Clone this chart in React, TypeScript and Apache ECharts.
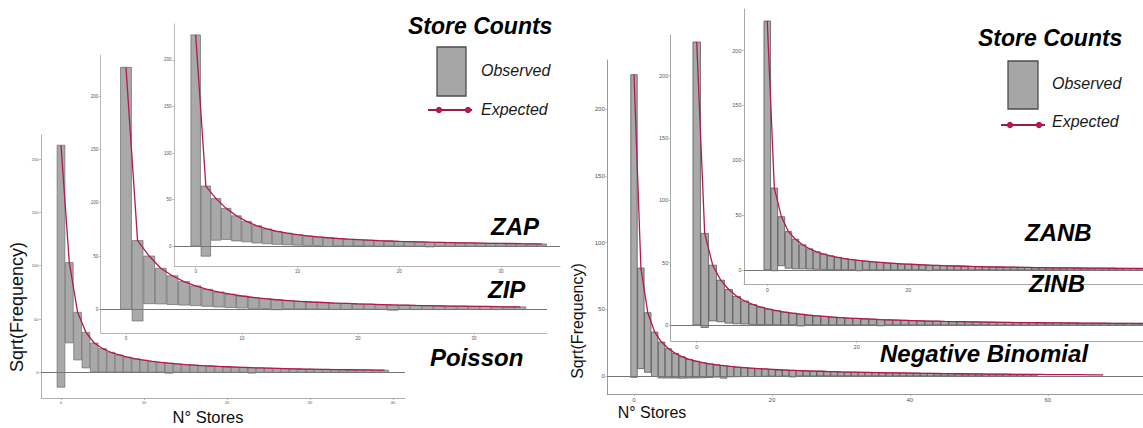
import React, { useEffect, useRef } from "react";
import * as echarts from "echarts";

// ---------- data (sqrt(frequency) scale) ----------
const observed = [
  227, 75.4, 44.7, 33.4, 27, 22, 18.5, 16, 14, 12.5,
  11.3, 10.2, 9.2, 9.4, 7.8, 7.2, 6.7, 6.3, 5.9, 5.5,
  5.1, 4.9, 4.5, 5.0, 4.1, 3.9, 3.7, 3.5, 3.3, 3.1,
  2.9, 2.9, 2.7, 2.6, 2.5, 2.4, 2.3, 2.4, 2.2, 2.1,
  2.0, 2.0, 1.9, 2.0, 1.8, 1.8, 1.7, 1.8, 1.6, 1.6,
  1.5, 1.6, 1.5, 1.4, 1.5, 1.3, 1.3, 1.4, 1.2,
];

const expPoisson = [
  213, 103, 56.3, 37.5, 27.5, 22.3, 18.8, 16.3, 14.3, 12.7,
  11.4, 10.3, 9.4, 8.6, 7.9, 7.3, 6.8, 6.3, 5.9, 5.5,
  5.2, 4.9, 4.6, 4.3, 4.1, 3.9, 3.7, 3.5, 3.3, 3.1,
  3.0, 2.8, 2.7, 2.6, 2.5, 2.4, 2.3, 2.2, 2.1, 2.0,
];

const expZIP = [
  227, 64.5, 50, 38.5, 31.5, 26, 22, 18.8, 16.2, 14.2,
  12.5, 11.1, 10.0, 9.0, 8.2, 7.5, 6.9, 6.4, 5.9, 5.5,
  5.1, 4.8, 4.5, 4.2, 4.0, 3.7, 3.5, 3.3, 3.1, 3.0,
  2.8, 2.7, 2.5, 2.4, 2.3,
];

const expZAP = [
  227, 64.5, 51, 40.5, 32.5, 26.5, 21.8, 18.4, 15.8, 13.8,
  12.2, 10.9, 9.8, 8.9, 8.1, 7.4, 6.8, 6.3, 5.8, 5.4,
  5.0, 4.7, 4.4, 4.1, 3.9, 3.7, 3.5, 3.3, 3.1, 2.9,
  2.8, 2.7, 2.5, 2.4, 2.3,
];

const expNB = [
  226, 81, 47.5, 33, 25.5, 20.5, 17, 14.4, 12.5, 11.1,
  10.0, 9.1, 8.4, 7.8, 7.2, 6.7, 6.3, 5.9, 5.6, 5.3,
  5.0, 4.7, 4.5, 4.3, 4.1, 3.9, 3.7, 3.6, 3.4, 3.3,
  3.1, 3.0, 2.9, 2.8, 2.7, 2.6, 2.5, 2.4, 2.3, 2.3,
  2.2, 2.1, 2.0, 2.0, 1.9, 1.8, 1.8, 1.7, 1.7, 1.6,
  1.6, 1.5, 1.5, 1.4, 1.4, 1.3, 1.3, 1.3, 1.2, 1.2,
  1.1, 1.1, 1.1, 1.0, 1.0, 1.0, 0.9, 0.9, 0.9,
];

const expZINB = [
  227, 73.5, 48, 36, 28.5, 23, 19.3, 16.5, 14.4, 12.8,
  11.5, 10.4, 9.5, 8.7, 8.0, 7.4, 6.9, 6.4, 6.0, 5.6,
  5.3, 5.0, 4.7, 4.4, 4.2, 4.0, 3.8, 3.6, 3.4, 3.2,
  3.1, 2.9, 2.8, 2.7, 2.6, 2.5, 2.4, 2.3, 2.2, 2.1,
  2.0, 1.95, 1.9, 1.85, 1.8, 1.75, 1.7, 1.65, 1.6, 1.55,
  1.5, 1.45, 1.4, 1.4, 1.35, 1.3, 1.3, 1.25, 1.2,
];

const expZANB = [
  227, 74.7, 48.6, 35, 28, 23, 19.3, 16.6, 14.5, 12.9,
  11.5, 10.4, 9.5, 8.7, 8.0, 7.4, 6.9, 6.4, 6.0, 5.6,
  5.3, 5.0, 4.7, 4.4, 4.2, 4.0, 3.8, 3.6, 3.4, 3.2,
  3.1, 2.9, 2.8, 2.7, 2.6, 2.5, 2.4, 2.3, 2.2, 2.1,
  2.0, 1.95, 1.9, 1.85, 1.8, 1.75, 1.7, 1.65, 1.6, 1.55,
  1.5, 1.45, 1.4, 1.4, 1.35, 1.3, 1.3, 1.25, 1.2,
];

const yTicks = [0, 50, 100, 150, 200];
const xTicksPoisson = [0, 10, 20, 30, 40];
const xTicksZI = [0, 10, 20, 30];
const xTicksNB = [0, 20, 40, 60];
const xTicksInset = [0, 20];

const modelLabels = ["Poisson", "ZIP", "ZAP", "Negative Binomial", "ZINB", "ZANB"];

// ---------- layout / style ----------
const FONT = '"Liberation Sans", Arial, Helvetica, sans-serif';
const LINE_COLOR = "#b5184e";
const BAR_FILL = "#a9a9a9";

type Panel = {
  exp: number[];
  nBars: number;
  left: number; top: number; width: number; height: number;
  xMin: number; xMax: number; yMin: number; yMax: number;
  fs: number; xTicks: number[]; stroke: string; axisColor: string;
};

const panels: Panel[] = [
  { exp: expPoisson, nBars: 40, left: 41, top: 135, width: 364, height: 263,
    xMin: -2.41, xMax: 41.45, yMin: -24.1, yMax: 222.6, fs: 4, xTicks: xTicksPoisson, stroke: "#707070", axisColor: "#b0b0b0" },
  { exp: expZIP, nBars: 35, left: 100.7, top: 55, width: 446.3, height: 278,
    xMin: -2.18, xMax: 36.3, yMin: -22.2, yMax: 238.6, fs: 4.5, xTicks: xTicksZI, stroke: "#6a6a6a", axisColor: "#b8b8b8" },
  { exp: expZAP, nBars: 35, left: 174, top: 24, width: 386, height: 242.5,
    xMin: -2.13, xMax: 35.8, yMin: -22, yMax: 238.7, fs: 4.5, xTicks: xTicksZI, stroke: "#6a6a6a", axisColor: "#b8b8b8" },
  { exp: expNB, nBars: 59, left: 607.3, top: 60, width: 535.7, height: 334.3,
    xMin: -3.87, xMax: 73.8, yMin: -13.7, yMax: 237, fs: 6, xTicks: xTicksNB, stroke: "#4a4a4a", axisColor: "#9a9a9a" },
  { exp: expZINB, nBars: 59, left: 670.7, top: 35, width: 472.3, height: 306,
    xMin: -3.25, xMax: 55.8, yMin: -12.8, yMax: 232.6, fs: 5.5, xTicks: xTicksInset, stroke: "#4a4a4a", axisColor: "#a8a8a8" },
  { exp: expZANB, nBars: 59, left: 744, top: 9, width: 399, height: 275,
    xMin: -3.3, xMax: 53.3, yMin: -12.8, yMax: 238, fs: 5.5, xTicks: xTicksInset, stroke: "#4a4a4a", axisColor: "#a8a8a8" },
];

function tickFormatter(ticks: number[]) {
  return (v: number) => {
    for (const t of ticks) if (Math.abs(v - t) < 1e-6) return String(t);
    return "";
  };
}

function buildOption() {
  const grid: any[] = [];
  const xAxis: any[] = [];
  const yAxis: any[] = [];
  const series: any[] = [];

  panels.forEach((p, i) => {
    const zb = i * 10;
    grid.push({
      left: p.left, top: p.top, width: p.width, height: p.height,
      containLabel: false, outerBoundsMode: "none", z: zb,
    });
    const axisCommon = {
      gridIndex: i,
      type: "value",
      z: zb + 1,
      splitLine: { show: false },
      axisLine: { show: true, onZero: false, lineStyle: { color: p.axisColor, width: 1 } },
    };
    xAxis.push({
      ...axisCommon,
      min: p.xMin, max: p.xMax,
      axisTick: { show: true, length: 2, customValues: p.xTicks, lineStyle: { color: "#999", width: 0.6 } },
      axisLabel: { show: true, fontSize: p.fs, color: "#555", margin: 2.5, fontFamily: FONT,
        customValues: p.xTicks, formatter: tickFormatter(p.xTicks), hideOverlap: false },
    });
    yAxis.push({
      ...axisCommon,
      min: p.yMin, max: p.yMax,
      axisTick: { show: true, length: 2, customValues: yTicks, lineStyle: { color: "#999", width: 0.6 } },
      axisLabel: { show: true, fontSize: p.fs, color: "#555", margin: 2.5, fontFamily: FONT,
        customValues: yTicks, formatter: tickFormatter(yTicks), hideOverlap: false },
    });

    const barData = observed.slice(0, p.nBars).map((o, k) => [k, p.exp[k] - o, p.exp[k]]);
    const lineData = p.exp.map((v, k) => [k, v]);

    series.push({
      type: "custom",
      name: modelLabels[i] + " observed",
      xAxisIndex: i, yAxisIndex: i,
      z: zb + 2,
      clip: true,
      encode: { x: 0, y: [1, 2] },
      data: barData,
      renderItem: (params: any, api: any) => {
        const x = api.value(0);
        const lo = api.value(1);
        const hi = api.value(2);
        const a = api.coord([x - 0.47, hi]);
        const b = api.coord([x + 0.47, lo]);
        return {
          type: "rect",
          shape: { x: a[0], y: a[1], width: b[0] - a[0], height: b[1] - a[1] },
          style: { fill: BAR_FILL, stroke: p.stroke, lineWidth: 0.7 },
        };
      },
    });
    series.push({
      type: "line",
      name: modelLabels[i] + " expected",
      xAxisIndex: i, yAxisIndex: i,
      z: zb + 3,
      data: lineData,
      showSymbol: false,
      symbol: "none",
      clip: true,
      lineStyle: { color: LINE_COLOR, width: 1.3 },
      markLine: {
        silent: true,
        symbol: ["none", "none"],
        label: { show: false },
        lineStyle: { color: "#767676", width: 1.2, type: "solid" },
        data: [{ yAxis: 0 }],
        z: zb + 3,
      },
    });
  });

  const txt = (text: string, x: number, y: number, size: number, opts: any = {}) => ({
    type: "text",
    x, y,
    rotation: opts.rotation || 0,
    z: 200,
    style: {
      text,
      fill: opts.fill || "#000",
      fontSize: size,
      fontWeight: opts.weight || "normal",
      fontStyle: opts.style || "normal",
      fontFamily: FONT,
      align: opts.align || "left",
      verticalAlign: "middle",
    },
  });
  const bi = { weight: "bold", style: "italic" };
  const it = { style: "italic", fill: "#1a1a1a" };

  const legend = (rx: number, ry: number, rw: number, rh: number, lx1: number, lx2: number, ly: number, d1: number, d2: number) => [
    { type: "rect", z: 200, shape: { x: rx, y: ry, width: rw, height: rh },
      style: { fill: "#a6a6a6", stroke: "#4d4d4d", lineWidth: 1.3 } },
    { type: "line", z: 200, shape: { x1: lx1, y1: ly, x2: lx2, y2: ly },
      style: { stroke: "#9c1a46", lineWidth: 2 } },
    { type: "circle", z: 201, shape: { cx: d1, cy: ly, r: 3.2 }, style: { fill: "#b01a4c" } },
    { type: "circle", z: 201, shape: { cx: d2, cy: ly, r: 3.2 }, style: { fill: "#b01a4c" } },
  ];

  const graphic: any[] = [
    // left panel
    txt("Store Counts", 408, 26, 23, bi),
    ...legend(437, 47, 29, 49, 428, 472, 110, 439, 468),
    txt("Observed", 481, 70, 16, it),
    txt("Expected", 481, 109, 16, it),
    txt(modelLabels[2], 491, 226, 24, bi),
    txt(modelLabels[1], 488, 289, 24, bi),
    txt(modelLabels[0], 430, 357, 24, bi),
    txt("Sqrt(Frequency)", 17, 307, 18, { rotation: Math.PI / 2, align: "center", fill: "#111" }),
    txt("N° Stores", 208, 417, 16.5, { align: "center", fill: "#111" }),
    // right panel
    txt("Store Counts", 978, 38, 23, bi),
    ...legend(1008, 61, 30, 48, 1001, 1045, 125, 1010, 1039),
    txt("Observed", 1052, 83, 16, it),
    txt("Expected", 1052, 121, 16, it),
    txt(modelLabels[5], 1025, 232, 24, bi),
    txt(modelLabels[4], 1029, 283, 24, bi),
    txt(modelLabels[3], 880, 353, 24, bi),
    txt("Sqrt(Frequency)", 577, 321, 16, { rotation: Math.PI / 2, align: "center", fill: "#111" }),
    txt("N° Stores", 652, 412, 16, { align: "center", fill: "#111" }),
  ];

  return {
    animation: false,
    backgroundColor: "#ffffff",
    grid, xAxis, yAxis, series, graphic,
  };
}

export default function App() {
  const ref = useRef<HTMLDivElement>(null);
  useEffect(() => {
    document.body.style.margin = "0";
    if (!ref.current) return;
    const chart = echarts.init(ref.current, null, { renderer: "svg" });
    chart.setOption(buildOption() as any);
    return () => chart.dispose();
  }, []);
  return (
    <div
      ref={ref}
      style={{ width: 1143, height: 428, position: "absolute", left: 0, top: 0, background: "#fff" }}
    />
  );
}
